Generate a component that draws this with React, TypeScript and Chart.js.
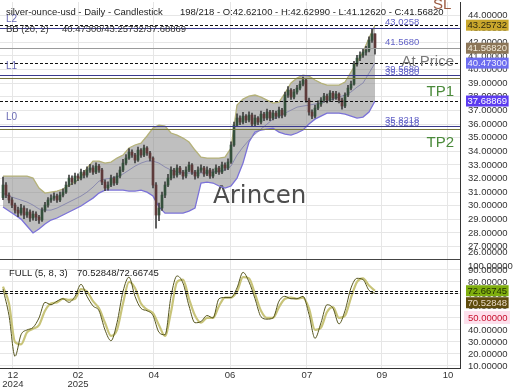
import React, { useEffect, useRef } from 'react';
import { Chart, registerables } from 'chart.js';

Chart.register(...registerables);

const FF = "'Liberation Sans', Arial, sans-serif";

// ---- Candles (one bar per index) ----
const FIRST_OPEN = 30.6;
const closes = [
  31.52, 30.78, 30.42, 30.05, 29.68, 29.46, 29.83, 29.32, 29.54, 29.10,
  29.39, 29.17, 28.95, 29.68, 30.05, 30.42, 30.56, 30.71, 30.42, 30.78,
  31.00, 31.52, 32.03, 31.74, 32.18, 32.03, 32.47, 32.25, 32.62, 32.77,
  32.47, 32.91, 32.62, 31.74, 31.30, 31.52, 32.03, 31.67, 32.18, 32.62,
  33.13, 33.50, 33.94, 33.72, 33.35, 34.09, 33.72, 34.24, 33.87, 33.50,
  31.52, 29.32, 29.83, 30.78, 31.52, 32.03, 32.62, 32.25, 32.77, 32.47,
  32.18, 32.62, 32.99, 32.47, 32.18, 32.62, 32.77, 32.33, 32.62, 32.18,
  32.47, 32.77, 32.47, 32.99, 32.77, 33.21, 34.46, 35.92, 36.44, 36.14,
  36.58, 36.29, 36.66, 36.00, 36.44, 36.14, 36.73, 36.44, 36.88, 36.44,
  36.80, 36.58, 37.02, 36.66, 38.13, 38.49, 37.98, 38.35, 38.64, 38.93,
  39.23, 37.76, 36.88, 36.58, 37.17, 37.47, 37.76, 38.05, 37.76, 38.27,
  37.91, 38.20, 37.76, 37.32, 38.13, 38.64, 38.93, 40.40, 40.84, 41.06,
  41.28, 41.43, 42.16, 42.621, 41.5682,
];
const highs = [
  32.10, 31.70, 30.95, 30.60, 30.20, 29.90, 30.10, 30.00, 29.80, 29.70,
  29.60, 29.55, 29.30, 29.85, 30.25, 30.60, 30.80, 30.95, 30.85, 31.00,
  31.25, 31.75, 32.25, 32.20, 32.40, 32.35, 32.70, 32.60, 32.85, 33.05,
  32.95, 33.15, 33.05, 32.75, 31.90, 31.75, 32.25, 32.15, 32.40, 32.85,
  33.40, 33.75, 34.20, 34.10, 33.85, 34.30, 34.20, 34.45, 34.35, 34.00,
  33.60, 31.70, 30.20, 31.00, 31.75, 32.30, 32.85, 32.75, 33.00, 32.90,
  32.60, 32.85, 33.20, 33.10, 32.60, 32.85, 33.00, 32.90, 32.85, 32.75,
  32.70, 33.00, 32.90, 33.20, 33.15, 33.45, 34.70, 36.15, 36.75, 36.60,
  36.85, 36.70, 36.90, 36.80, 36.65, 36.55, 36.95, 36.85, 37.10, 37.00,
  37.00, 36.95, 37.25, 37.15, 38.35, 38.75, 38.60, 38.55, 38.85, 39.15,
  39.45, 39.35, 37.90, 37.05, 37.40, 37.70, 37.95, 38.25, 38.20, 38.45,
  38.40, 38.40, 38.30, 37.90, 38.30, 38.85, 39.15, 40.60, 41.05, 41.30,
  41.55, 41.70, 42.40, 43.0258, 42.6299,
];
const lows = [
  30.45, 30.60, 30.20, 29.85, 29.45, 29.20, 29.30, 29.05, 29.15, 28.85,
  28.95, 28.90, 28.70, 28.85, 29.55, 29.90, 30.25, 30.40, 30.25, 30.30,
  30.65, 30.90, 31.40, 31.55, 31.60, 31.85, 31.90, 32.05, 32.10, 32.45,
  32.30, 32.35, 32.45, 31.55, 31.10, 31.15, 31.40, 31.50, 31.55, 32.05,
  32.50, 33.00, 33.40, 33.55, 33.15, 33.25, 33.55, 33.60, 33.70, 33.30,
  31.30, 28.36, 28.90, 29.65, 30.60, 31.40, 31.90, 32.05, 32.10, 32.30,
  31.95, 32.05, 32.50, 32.30, 31.95, 32.05, 32.45, 32.15, 32.20, 32.00,
  32.05, 32.35, 32.30, 32.35, 32.60, 32.65, 33.10, 34.35, 35.80, 35.95,
  36.00, 36.10, 36.15, 35.80, 35.85, 35.95, 36.00, 36.25, 36.30, 36.25,
  36.30, 36.40, 36.45, 36.45, 36.55, 37.95, 37.80, 37.85, 38.20, 38.50,
  38.80, 37.60, 36.65, 36.40, 36.45, 37.05, 37.30, 37.60, 37.55, 37.65,
  37.75, 37.80, 37.55, 37.10, 37.20, 38.00, 38.50, 38.85, 40.25, 40.65,
  40.90, 41.05, 41.30, 42.00, 41.1262,
];

// ---- Bollinger bands (sampled every 2 bars) ----
const bbUpper = [
  32.18, 32.18, 32.18, 32.18, 32.18, 32.03, 31.30, 30.93, 31.00, 31.08,
  31.23, 31.52, 31.74, 32.11, 32.77, 33.28, 33.28, 33.13, 33.21, 33.50,
  33.72, 34.24, 34.46, 34.60, 35.12, 35.70, 35.92, 35.85, 35.34, 35.19,
  34.97, 34.68, 34.09, 33.57, 33.50, 33.50, 33.50, 33.57, 34.24, 37.39,
  37.83, 38.05, 38.13, 37.98, 37.76, 37.54, 37.61, 38.27, 39.01, 39.37,
  39.59, 39.52, 39.23, 39.01, 38.86, 38.86, 38.86, 39.08, 39.82, 40.55,
  41.28, 42.31, 43.25732,
];
const bbMid = [
  30.93, 30.71, 30.56, 30.42, 30.27, 30.05, 29.76, 29.68, 29.68, 29.83,
  30.05, 30.27, 30.49, 30.71, 31.00, 31.37, 31.81, 31.96, 32.03, 32.11,
  32.33, 32.62, 32.91, 33.13, 33.28, 33.28, 33.13, 32.84, 32.62, 32.47,
  32.40, 32.40, 32.40, 32.40, 32.47, 32.47, 32.55, 32.62, 32.91, 33.72,
  34.31, 34.82, 35.26, 35.63, 35.99, 36.36, 36.58, 36.80, 37.02, 37.24,
  37.32, 37.39, 37.47, 37.54, 37.69, 37.83, 37.98, 38.13, 38.35, 38.71,
  39.01, 39.74, 40.473,
];
const bbLower = [
  29.91, 29.61, 29.32, 29.02, 28.51, 28.00, 28.29, 28.66, 28.95, 29.10,
  29.32, 29.54, 29.76, 29.98, 30.27, 30.56, 30.93, 31.15, 31.15, 31.15,
  31.15, 31.08, 31.08, 31.15, 31.00, 30.71, 29.91, 29.46, 29.46, 29.46,
  29.46, 29.61, 29.83, 31.67, 31.74, 31.67, 31.45, 31.30, 31.45, 32.03,
  33.13, 34.68, 35.41, 35.56, 35.63, 35.70, 35.41, 35.26, 35.19, 35.34,
  35.56, 36.00, 36.36, 36.58, 36.80, 36.80, 36.80, 36.73, 36.58, 36.44,
  36.51, 36.88, 37.68869,
];

// ---- Stochastic FULL (5, 8, 3), sampled every 2 bars ----
const stochK = [
  74, 52, 18, 36, 40, 42, 50, 63, 61, 64,
  66, 63, 68, 78, 68, 60, 56, 40, 31, 46,
  72, 84, 68, 58, 56, 52, 38, 36, 68, 85,
  79, 60, 46, 47, 52, 50, 66, 67, 67, 75,
  88, 80, 66, 51, 49, 50, 64, 68, 66, 66,
  68, 53, 33, 46, 61, 58, 45, 56, 75, 83,
  82, 73, 70.52848,
];
const stochD = [
  76, 62, 30, 28, 38, 41, 44, 56, 62, 63,
  66, 65, 66, 74, 72, 64, 58, 46, 35, 40,
  62, 80, 75, 62, 57, 54, 44, 35, 55, 80,
  82, 66, 52, 46, 50, 50, 60, 67, 67, 72,
  84, 83, 70, 56, 50, 50, 59, 66, 67, 66,
  67, 58, 40, 42, 55, 59, 50, 52, 67, 80,
  83, 77, 72.66745,
];

// ---- Axes ----
const xTickPos = [3.3, 25, 50.3, 75.7, 101.3, 126.3, 148.3];
const xTickLabels: (string | string[])[] = [['12', '2024'], ['02', '2025'], '04', '06', '07', '09', '10'];
const priceTicks = [27, 28, 29, 30, 31, 32, 33, 34, 35, 36, 37, 38, 39, 40, 41, 42, 43, 44];
const oscTicks = [10, 20, 30, 40, 50, 60, 70, 80, 90];

// ---- Levels ----
const levelNames = ['L2', 'L1', 'L0'];
const levelMain = [43.0258, 39.568, 35.8218];
const levelSecond = [null, 39.388, 35.6218];
const atPriceLevel = 41.568;
const notes = [
  { text: 'At Price', value: 40.55 },
  { text: 'TP1', value: 38.35 },
  { text: 'TP2', value: 34.6 },
];

const last = closes.length - 1;
const lastOpen = closes[last - 1];

const overlay = {
  id: 'overlay',
  beforeDatasetsDraw(chart: any) {
    const { ctx } = chart;
    ctx.save();
    ctx.font = "24.5px 'DejaVu Sans', sans-serif";
    ctx.fillStyle = '#4d4d4d';
    ctx.textAlign = 'left';
    ctx.textBaseline = 'alphabetic';
    ctx.fillText('Arincen', 213, 203);
    ctx.restore();
  },
  afterDatasetsDraw(chart: any) {
    const { ctx, chartArea: ca, scales } = chart;
    const y = scales.y;
    const y2 = scales.y2;
    ctx.save();
    const hline = (scale: any, v: number, color: string, dash: number[]) => {
      const py = Math.round(scale.getPixelForValue(v)) + 0.5;
      ctx.beginPath();
      ctx.setLineDash(dash);
      ctx.strokeStyle = color;
      ctx.lineWidth = 1;
      ctx.moveTo(ca.left, py);
      ctx.lineTo(ca.right, py);
      ctx.stroke();
    };
    hline(y, bbUpper[bbUpper.length - 1], '#111', [3, 2]);
    hline(y, bbMid[bbMid.length - 1], '#111', [3, 2]);
    hline(y, bbLower[bbLower.length - 1], '#111', [3, 2]);
    hline(y, atPriceLevel, '#9a9a9a', []);
    levelMain.forEach((v) => hline(y, v, '#3a3a8c', []));
    levelSecond.forEach((v) => { if (v != null) hline(y, v, '#76763e', []); });
    hline(y2, stochD[stochD.length - 1], '#111', [3, 2]);
    hline(y2, stochK[stochK.length - 1], '#111', [3, 2]);
    ctx.setLineDash([]);
    ctx.strokeStyle = '#444';
    ctx.beginPath();
    ctx.moveTo(ca.left, Math.round(y.bottom) + 0.5);
    ctx.lineTo(ca.right, Math.round(y.bottom) + 0.5);
    ctx.stroke();
    ctx.restore();
  },
  afterDraw(chart: any) {
    const { ctx, chartArea: ca, scales } = chart;
    const y = scales.y;
    const y2 = scales.y2;
    ctx.save();
    const txt = (s: string, x: number, yy: number, color: string, size = 9.5, align = 'left', base = 'middle') => {
      ctx.font = `${size}px ${FF}`;
      ctx.fillStyle = color;
      ctx.textAlign = align;
      ctx.textBaseline = base;
      ctx.fillText(s, x, yy);
    };
    const lvlX = ca.left + 385;
    levelMain.forEach((v, i) => {
      const py = y.getPixelForValue(v);
      txt(v.toFixed(4), lvlX, py - 1, '#6464c8', 9.5, 'left', 'bottom');
      txt(levelNames[i], ca.left + 6, py - 9, '#6a6ab4', 10);
      const s = levelSecond[i];
      if (s != null) txt(s.toFixed(4), lvlX, y.getPixelForValue(s) - 1, '#6464c8', 9.5, 'left', 'bottom');
    });
    txt(atPriceLevel.toFixed(4), lvlX, y.getPixelForValue(atPriceLevel) - 1, '#6464c8', 9.5, 'left', 'bottom');
    notes.forEach((n, i) => {
      txt(n.text, ca.right - 6, y.getPixelForValue(n.value), i === 0 ? '#7a7a7a' : '#4a8a3a', 15, 'right');
    });
    txt('SL', ca.right - 27, 9, '#9b5a40', 15, 'left', 'alphabetic');

    txt('26.00000', ca.right + 8, y.bottom - 7, '#333');
    txt('100.00000', ca.right + 8, y2.top + 7, '#333');

    const box = (label: string, py: number, bg: string, fg: string) => {
      ctx.font = `9.5px ${FF}`;
      const w = ctx.measureText(label).width;
      const bx = ca.right + 6;
      ctx.fillStyle = bg;
      ctx.fillRect(bx, py - 5.5, w + 3, 11);
      txt(label, bx + 1.5, py + 0.5, fg);
    };
    box(bbUpper[bbUpper.length - 1].toFixed(5), y.getPixelForValue(bbUpper[bbUpper.length - 1]), '#c9a72c', '#2e2a10');
    box(closes[last].toFixed(5), y.getPixelForValue(closes[last]), '#8c7658', '#f2ead8');
    box(bbMid[bbMid.length - 1].toFixed(5), y.getPixelForValue(bbMid[bbMid.length - 1]), '#6c6cf0', '#f0f0ff');
    box(bbLower[bbLower.length - 1].toFixed(5), y.getPixelForValue(bbLower[bbLower.length - 1]), '#5c3cf0', '#ffffff');

    const p50 = y2.getPixelForValue(50);
    ctx.fillStyle = '#fde0ec';
    ctx.fillRect(ca.right + 4, p50 - 7, 46, 13);
    txt('50.00000', ca.right + 8, p50, '#c8102e');

    const dV = stochD[stochD.length - 1];
    const kV = stochK[stochK.length - 1];
    const pD = y2.getPixelForValue(dV);
    let pK = y2.getPixelForValue(kV);
    if (Math.abs(pK - pD) < 12) pK = pD + 12;
    box(dV.toFixed(5), pD, '#7fae0e', '#1e2e00');
    box(kV.toFixed(5), pK, '#5e4c0c', '#eadbc8');

    txt('silver-ounce-usd - Daily - Candlestick', 6, 12.5, '#222');
    txt(`198/218 - O:${lastOpen.toFixed(5)} - H:${highs[last].toFixed(5)} - L:${lows[last].toFixed(5)} - C:${closes[last].toFixed(5)}`, 180, 12.5, '#222');
    txt('BB (20, 2)', 6, 29.5, '#333');
    txt(`${bbMid[bbMid.length - 1].toFixed(5)}/${bbUpper[bbUpper.length - 1].toFixed(5)}/${bbLower[bbLower.length - 1].toFixed(5)}`, 62, 29.5, '#333');
    txt('FULL (5, 8, 3)', 9, 273, '#222');
    txt(`${kV.toFixed(5)}/${dV.toFixed(5)}`, 77, 273, '#222');
    ctx.restore();
  },
};

export default function App() {
  const ref = useRef<HTMLCanvasElement>(null);
  useEffect(() => {
    Chart.defaults.font.family = FF;
    const opens = closes.map((c, i) => (i === 0 ? FIRST_OPEN : closes[i - 1]));
    const wickData = closes.map((_, i) => ({ x: i, y: [lows[i], highs[i]] }));
    const bodyData = closes.map((c, i) => ({ x: i, y: [opens[i], c] }));
    const bodyColors = closes.map((c, i) => (c >= opens[i] ? '#35503c' : '#5e3a3a'));
    const pts = (arr: number[]) => arr.map((v, k) => ({ x: 2 * k, y: v }));

    const chart = new Chart(ref.current as HTMLCanvasElement, {
      type: 'line',
      data: {
        datasets: [
          {
            type: 'line', label: 'BB upper', data: pts(bbUpper), yAxisID: 'y',
            borderColor: '#b5b27a', borderWidth: 1.3, pointRadius: 0, fill: '+1',
            backgroundColor: 'rgba(128,128,128,0.5)', order: 10,
          },
          {
            type: 'line', label: 'BB lower', data: pts(bbLower), yAxisID: 'y',
            borderColor: '#7b72d8', borderWidth: 1.3, pointRadius: 0, fill: false, order: 9,
          },
          {
            type: 'line', label: 'BB mid', data: pts(bbMid), yAxisID: 'y',
            borderColor: '#8a8aae', borderWidth: 1, pointRadius: 0, fill: false, order: 8,
          },
          {
            type: 'bar', label: 'wick', data: wickData as any, yAxisID: 'y',
            backgroundColor: '#404040', barThickness: 1, grouped: false, borderWidth: 0, order: 3,
          },
          {
            type: 'bar', label: 'body', data: bodyData as any, yAxisID: 'y',
            backgroundColor: bodyColors, barThickness: 2, grouped: false, borderWidth: 0, order: 2,
          },
          {
            type: 'line', label: '%D', data: pts(stochD), yAxisID: 'y2',
            borderColor: '#c8c47a', borderWidth: 2.2, pointRadius: 0, fill: false,
            cubicInterpolationMode: 'monotone', order: 1,
          },
          {
            type: 'line', label: '%K', data: pts(stochK), yAxisID: 'y2',
            borderColor: '#55551e', borderWidth: 1, pointRadius: 0, fill: false,
            cubicInterpolationMode: 'monotone', order: 0,
          },
        ] as any,
      },
      options: {
        responsive: false,
        animation: false,
        devicePixelRatio: 1,
        layout: { padding: { top: 2, left: 0, right: 0, bottom: 0 } },
        plugins: { legend: { display: false }, tooltip: { enabled: false } },
        scales: {
          x: {
            type: 'linear', min: -1, max: 152.33, offset: false,
            afterBuildTicks: (s: any) => { s.ticks = xTickPos.map((v) => ({ value: v })); },
            ticks: {
              autoSkip: false, maxRotation: 0, padding: 3, color: '#333',
              font: { size: 9.5, lineHeight: 0.95 },
              callback: (_v: any, i: number) => xTickLabels[i],
            },
            grid: { color: '#e6e6e6', drawTicks: false, offset: false },
            border: { color: '#333' },
            afterFit: (s: any) => { s.height = 22; s.paddingLeft = 0; s.paddingRight = 0; },
          },
          y: {
            type: 'linear', position: 'right', stack: 'panes', stackWeight: 257,
            min: 26.09, max: 44.96,
            afterBuildTicks: (s: any) => { s.ticks = priceTicks.map((v) => ({ value: v })); },
            ticks: {
              autoSkip: false, padding: 8, color: '#333', font: { size: 9.5 },
              callback: (v: any) => Number(v).toFixed(5),
            },
            grid: { color: '#e6e6e6', drawTicks: false },
            border: { color: '#333' },
            afterFit: (s: any) => { s.width = 60; s.paddingTop = 0; s.paddingBottom = 0; },
          },
          y2: {
            type: 'linear', position: 'right', stack: 'panes', stackWeight: 109,
            min: 8.3, max: 99.1,
            afterBuildTicks: (s: any) => { s.ticks = oscTicks.map((v) => ({ value: v })); },
            ticks: {
              autoSkip: false, padding: 8, color: '#333', font: { size: 9.5 },
              callback: (v: any) => Number(v).toFixed(5),
            },
            grid: { color: '#e6e6e6', drawTicks: false },
            border: { color: '#333' },
            afterFit: (s: any) => { s.width = 60; s.paddingTop = 0; s.paddingBottom = 0; },
          },
        },
      } as any,
      plugins: [overlay],
    });
    return () => chart.destroy();
  }, []);

  return (
    <div style={{ position: 'fixed', left: 0, top: 0, width: 520, height: 390, background: '#fff' }}>
      <canvas ref={ref} width={520} height={390} style={{ display: 'block', width: 520, height: 390 }} />
    </div>
  );
}
